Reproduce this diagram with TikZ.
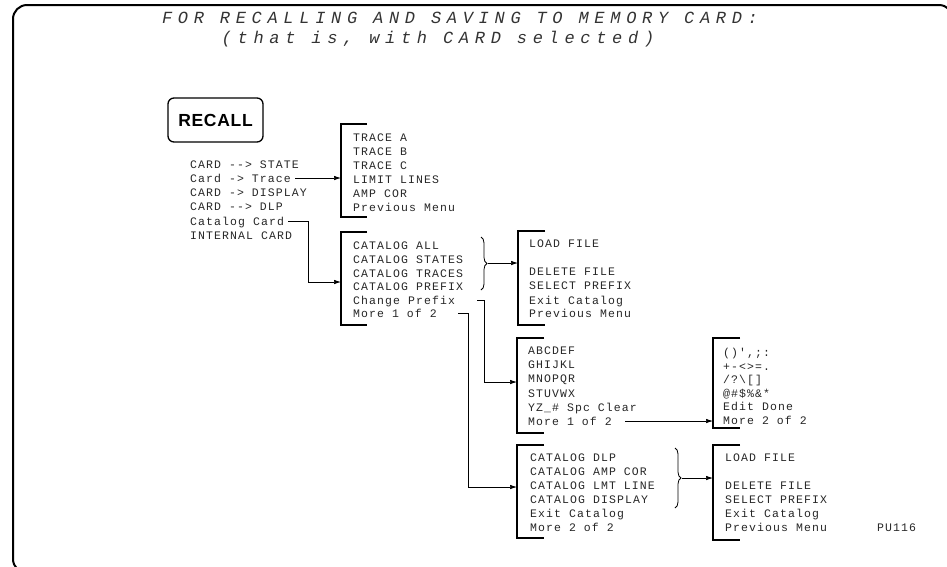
\documentclass[tikz,border=0pt]{standalone}
\usepackage{fontspec}
\newfontfamily\plotfont[LetterSpace=9.5]{Liberation Mono}
\newfontfamily\titlefont[LetterSpace=33.5]{Liberation Mono}
\newfontfamily\keyfont[LetterSpace=4]{Liberation Sans}
\usetikzlibrary{arrows.meta,decorations.pathreplacing}
\begin{document}
\begin{tikzpicture}[x=1pt,y=-1pt,
  item/.style={anchor=west,inner sep=0pt,text height=8pt,text depth=0pt,
    font=\plotfont\fontsize{11.5}{12}\selectfont,text=black!85},
  ttl/.style={inner sep=0pt,text height=11.5pt,text depth=0pt,font=\titlefont\itshape\fontsize{17}{18}\selectfont,text=black!80},
  keybox/.style={draw,line width=1.3pt,rounded corners=6pt,minimum width=95pt,minimum height=44pt,
    inner sep=0pt,font=\keyfont\bfseries\fontsize{17.5}{19}\selectfont},
  menubr/.style={line width=1.6pt},
  conn/.style={line width=0.7pt,-{Latex[length=7pt,width=4.5pt]}},
  brc/.style={line width=0.8pt,decorate,decoration={brace,amplitude=6pt}},
  frame/.style={line width=2pt,rounded corners=14pt}]
\useasboundingbox (0,0) rectangle (947,566);
\draw[frame] (13,5) rectangle (953,573);

% title
\node[ttl] (t1) at (460,18) {FOR RECALLING AND SAVING TO MEMORY CARD:};
\node[ttl] (t2) at (438,38) {(that is, with CARD selected)};

% RECALL key
\node[keybox] (recall) at (215.5,120) {RECALL};

% left menu
\node[item] (l1) at (190,164) {CARD -{}-{}> STATE};
\node[item] (l2) at (190,178) {Card -{}> Trace};
\node[item] (l3) at (190,192) {CARD -{}> DISPLAY};
\node[item] (l4) at (190,206) {CARD -{}-{}> DLP};
\node[item] (l5) at (190,221) {Catalog Card};
\node[item] (l6) at (190,235) {INTERNAL CARD};

% trace menu
\draw[menubr] (367,124) -- (341,124) -- (341,217) -- (367,217);
\coordinate (trin) at (341,178);
\node[item] (tr1) at (353,137) {TRACE A};
\node[item] (tr2) at (353,151) {TRACE B};
\node[item] (tr3) at (353,165) {TRACE C};
\node[item] (tr4) at (353,179) {LIMIT LINES};
\node[item] (tr5) at (353,193) {AMP COR};
\node[item] (tr6) at (353,207) {Previous Menu};

% catalog menu 1
\draw[menubr] (367,232) -- (341,232) -- (341,325) -- (367,325);
\coordinate (catin) at (341,282);
\node[item] (c1) at (353,245) {CATALOG ALL};
\node[item] (c2) at (353,259) {CATALOG STATES};
\node[item] (c3) at (353,273) {CATALOG TRACES};
\node[item] (c4) at (353,286) {CATALOG PREFIX};
\node[item] (c5) at (353,300) {Change Prefix};
\node[item] (c6) at (353,313) {More 1 of 2};

% load menu 1
\draw[menubr] (545,231) -- (518,231) -- (518,325) -- (545,325);
\coordinate (ld1in) at (518,263);
\node[item] (a1) at (529,243) {LOAD FILE};
\node[item] (a2) at (529,271) {DELETE FILE};
\node[item] (a3) at (529,285) {SELECT PREFIX};
\node[item] (a4) at (529,300) {Exit Catalog};
\node[item] (a5) at (529,313) {Previous Menu};

% alpha menu
\draw[menubr] (544,338) -- (517,338) -- (517,433) -- (544,433);
\coordinate (abcin) at (517,382);
\node[item] (b1) at (528,350) {ABCDEF};
\node[item] (b2) at (528,364) {GHIJKL};
\node[item] (b3) at (528,378) {MNOPQR};
\node[item] (b4) at (528,393) {STUVWX};
\node[item] (b5) at (528,407) {YZ\_\# Spc Clear};
\node[item] (b6) at (528,421) {More 1 of 2};

% special character menu
\draw[menubr] (740,338) -- (713,338) -- (713,428) -- (740,428);
\coordinate (spin) at (713,421);
\node[item] (s1) at (723,352) {()',;:};
\node[item] (s2) at (723,366) {+-<>=.};
\node[item] (s3) at (723,379) {/?\textbackslash[]};
\node[item] (s4) at (723,393) {@\#\$\%\&*};
\node[item] (s5) at (723,406) {Edit Done};
\node[item] (s6) at (723,420) {More 2 of 2};

% catalog menu 2
\draw[menubr] (544,445) -- (517,445) -- (517,538) -- (544,538);
\coordinate (cat2in) at (517,487);
\node[item] (d1) at (530,457) {CATALOG DLP};
\node[item] (d2) at (530,471) {CATALOG AMP COR};
\node[item] (d3) at (530,485) {CATALOG LMT LINE};
\node[item] (d4) at (530,499) {CATALOG DISPLAY};
\node[item] (d5) at (530,513) {Exit Catalog};
\node[item] (d6) at (530,527) {More 2 of 2};

% load menu 2
\draw[menubr] (740,445) -- (713,445) -- (713,540) -- (740,540);
\coordinate (ld2in) at (713,478);
\node[item] (e1) at (725,457) {LOAD FILE};
\node[item] (e2) at (725,485) {DELETE FILE};
\node[item] (e3) at (725,499) {SELECT PREFIX};
\node[item] (e4) at (725,513) {Exit Catalog};
\node[item] (e5) at (725,527) {Previous Menu};

\node[item] (pu) at (877,527) {PU116};

% braces
\draw[brc] (481,237) -- (481,290) coordinate[midway] (br1);
\draw[brc] (675,448) -- (675,508) coordinate[midway] (br2);
\coordinate (br1tip) at (488,263);
\coordinate (br2tip) at (682,478);

% connectors
\draw[conn] ([xshift=4pt]l2.east) -- (trin);
\draw[conn] ([xshift=4pt]l5.east) -- ++(20,0) |- (catin);
\draw[conn] (br1tip) -- (ld1in);
\draw[conn] (br2tip) -- (ld2in);
\coordinate (cpS) at (477,300);
\coordinate (m1S) at (458,313);
\coordinate (m2S) at (625,421);
\draw[conn] (cpS) -- (484,300) |- (abcin);
\draw[conn] (m1S) -- (468,313) |- (cat2in);
\draw[conn] (m2S) -- (spin);
\end{tikzpicture}
\end{document}
